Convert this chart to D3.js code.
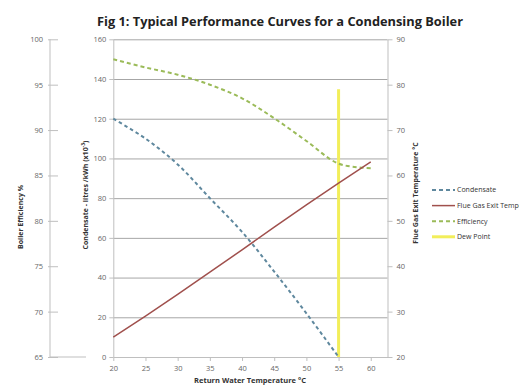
<!DOCTYPE html>
<html>
<head>
<meta charset="utf-8">
<script src="https://cdn.jsdelivr.net/npm/d3@7"></script>
<style>
  body { margin: 0; background: #fff; }
  text { font-family: "Open Sans", "Liberation Sans", sans-serif; }
</style>
</head>
<body>
<div id="chart"></div>
<script>
// return water temperature (x)
var temps = [20, 25, 30, 35, 40, 45, 50, 55, 60];
// condensate litres/kWh (x10^-3)
var condensate = [120, 110, 97, 80, 63, 43, 22, 0, null];
// flue gas exit temperature °C
var flueGas = [24.4, 29.0, 33.8, 38.7, 43.6, 48.6, 53.5, 58.3, 63.0];
// boiler efficiency %
var efficiency = [97.8, 96.9, 96.1, 95.0, 93.5, 91.3, 88.8, 86.3, 85.8];
// dew point marker (x, flue temp)
var dewX = [55, 55];
var dewY = [20, 79];

var xTicks = [20, 25, 30, 35, 40, 45, 50, 55, 60];
var condTicks = [0, 20, 40, 60, 80, 100, 120, 140, 160];
var effTicks = [65, 70, 75, 80, 85, 90, 95, 100];
var tempTicks = [20, 30, 40, 50, 60, 70, 80, 90];

var legendNames = ["Condensate", "Flue Gas Exit Temperature", "Efficiency", "Dew Point"];

var svgWidth = 519, svgHeight = 385;
var svg = d3.select("#chart").append("svg")
  .attr("width", svgWidth)
  .attr("height", svgHeight);

var plot = {left: 113.3, right: 387.5, top: 39.3, bottom: 357};

var x = d3.scaleLinear().domain([20, 62.6]).range([plot.left, plot.right]);
var yCond = d3.scaleLinear().domain([0, 160]).range([plot.bottom, plot.top]);
var yEff = d3.scaleLinear().domain([65, 100]).range([plot.bottom, plot.top]);
var yTemp = d3.scaleLinear().domain([20, 90]).range([plot.bottom, plot.top]);

var tickColor = "#666";
var gridColor = "#a6a6a6";
var axisColor = "#bfbfbf";

// title
svg.append("text")
  .attr("x", 280).attr("y", 26)
  .attr("text-anchor", "middle")
  .attr("font-size", 13).attr("font-weight", "bold")
  .attr("fill", "#222")
  .attr("textLength", 366).attr("lengthAdjust", "spacingAndGlyphs")
  .text("Fig 1: Typical Performance Curves for a Condensing Boiler");

// gridlines
svg.append("g")
  .attr("transform", "translate(" + plot.left + ",0)")
  .call(d3.axisLeft(yCond).tickValues(condTicks.slice(1)).tickSize(-(plot.right - plot.left)).tickFormat(""))
  .call(g => g.select(".domain").remove())
  .call(g => g.selectAll("line").attr("stroke", gridColor));

// condensate axis (left of plot)
svg.append("g")
  .attr("transform", "translate(" + plot.left + ",0)")
  .call(d3.axisLeft(yCond).tickValues(condTicks).tickSize(4).tickPadding(3).tickSizeOuter(0))
  .call(g => g.select(".domain").attr("stroke", axisColor))
  .call(g => g.selectAll("line").attr("stroke", axisColor))
  .call(g => g.selectAll("text").attr("fill", tickColor).attr("font-size", 7.5));

// x axis
svg.append("g")
  .attr("transform", "translate(0," + plot.bottom + ")")
  .call(d3.axisBottom(x).tickValues(xTicks).tickSize(4).tickPadding(5).tickSizeOuter(0))
  .call(g => g.select(".domain").attr("stroke", axisColor))
  .call(g => g.selectAll("line").attr("stroke", axisColor))
  .call(g => g.selectAll("text").attr("fill", tickColor).attr("font-size", 7.5));

// flue gas axis (right)
svg.append("g")
  .attr("transform", "translate(" + plot.right + ",0)")
  .call(d3.axisRight(yTemp).tickValues(tempTicks).tickSize(5).tickPadding(4).tickSizeOuter(0))
  .call(g => g.select(".domain").attr("stroke", axisColor))
  .call(g => g.selectAll("line").attr("stroke", axisColor))
  .call(g => g.selectAll("text").attr("fill", tickColor).attr("font-size", 7.5));

// efficiency axis (outer left)
svg.append("g")
  .attr("transform", "translate(58,0)")
  .call(d3.axisLeft(yEff).tickValues(effTicks).tickSize(10).tickPadding(5))
  .call(g => g.select(".domain").remove())
  .call(g => g.selectAll("line").attr("stroke", axisColor))
  .call(g => g.selectAll("text").attr("fill", tickColor).attr("font-size", 7.5));

svg.append("line")
  .attr("x1", 50).attr("x2", 50)
  .attr("y1", yEff(100)).attr("y2", yEff(65))
  .attr("stroke", axisColor);
svg.append("line")
  .attr("x1", 50).attr("x2", 86)
  .attr("y1", yEff(65)).attr("y2", yEff(65))
  .attr("stroke", axisColor);

// axis titles
svg.append("text")
  .attr("x", 250).attr("y", 383)
  .attr("text-anchor", "middle")
  .attr("font-size", 7.5).attr("font-weight", "bold").attr("fill", "#333")
  .text("Return Water Temperature °C");

svg.append("text")
  .attr("transform", "translate(23,217) rotate(-90)")
  .attr("text-anchor", "middle")
  .attr("font-size", 7).attr("font-weight", "bold").attr("fill", "#333")
  .text("Boiler Efficiency %");

var condTitle = svg.append("text")
  .attr("transform", "translate(88,195) rotate(-90)")
  .attr("text-anchor", "middle")
  .attr("font-size", 7).attr("font-weight", "bold").attr("fill", "#333");
condTitle.append("tspan").text("Condensate - litres /kWh (x10");
condTitle.append("tspan").attr("dy", -3).attr("font-size", 5).text("-3");
condTitle.append("tspan").attr("dy", 3).text(")");

svg.append("text")
  .attr("transform", "translate(418,193) rotate(-90)")
  .attr("text-anchor", "middle")
  .attr("font-size", 7).attr("font-weight", "bold").attr("fill", "#333")
  .text("Flue Gas Exit Temperature °C");

// series
var colors = ["#5f889e", "#a0504d", "#9bbb59", "#f2ee5a"];

var condLine = d3.line()
  .x(d => x(d[0]))
  .y(d => yCond(d[1]))
  .curve(d3.curveCatmullRom.alpha(0.5));

var effLine = d3.line()
  .x(d => x(d[0]))
  .y(d => yEff(d[1]))
  .curve(d3.curveCatmullRom.alpha(0.5));

var tempLine = d3.line()
  .x(d => x(d[0]))
  .y(d => yTemp(d[1]));

svg.append("path")
  .datum(dewX.map((v, i) => [v, dewY[i]]))
  .attr("fill", "none")
  .attr("stroke", colors[3])
  .attr("stroke-width", 3)
  .attr("d", tempLine);

svg.append("path")
  .datum(temps.map((t, i) => [t, condensate[i]]).filter(d => d[1] != null))
  .attr("fill", "none")
  .attr("stroke", colors[0])
  .attr("stroke-width", 2)
  .attr("stroke-dasharray", "3.5,3")
  .attr("d", condLine);

svg.append("path")
  .datum(temps.map((t, i) => [t, efficiency[i]]))
  .attr("fill", "none")
  .attr("stroke", colors[2])
  .attr("stroke-width", 2)
  .attr("stroke-dasharray", "4,3")
  .attr("d", effLine);

svg.append("path")
  .datum(temps.map((t, i) => [t, flueGas[i]]))
  .attr("fill", "none")
  .attr("stroke", colors[1])
  .attr("stroke-width", 1.5)
  .attr("d", tempLine);

// legend
var legend = svg.append("g").attr("transform", "translate(432,190)");
legendNames.forEach((name, i) => {
  var row = legend.append("g").attr("transform", "translate(0," + (i * 15.6) + ")");
  row.append("line")
    .attr("x1", 0).attr("x2", 23)
    .attr("stroke", colors[i])
    .attr("stroke-width", i == 3 ? 3 : (i == 1 ? 1.5 : 2))
    .attr("stroke-dasharray", (i == 0 || i == 2) ? "4,3" : null);
  row.append("text")
    .attr("x", 25).attr("dy", "0.35em")
    .attr("font-size", 7).attr("fill", "#333")
    .text(name);
});
</script>
</body>
</html>
